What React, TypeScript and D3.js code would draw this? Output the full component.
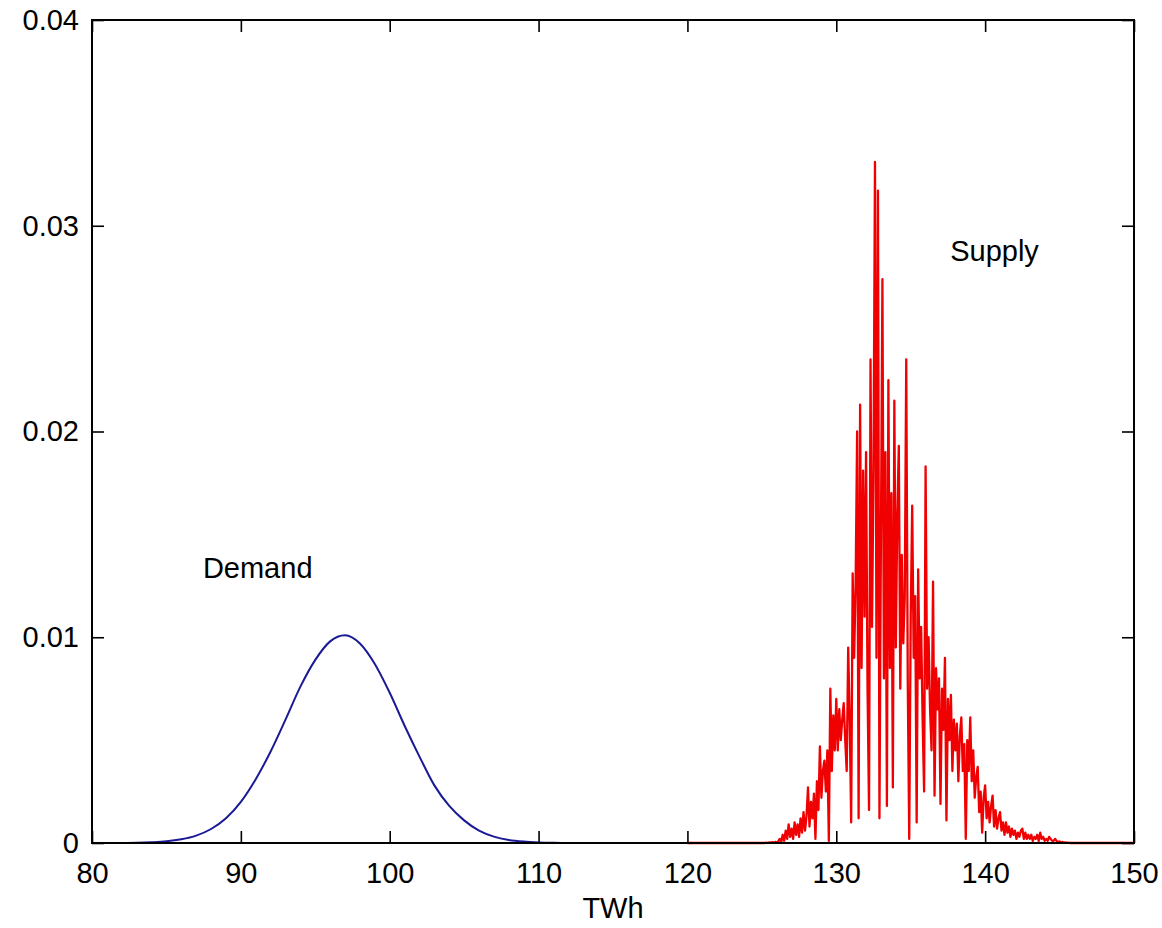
import { useEffect, useRef } from 'react'
import * as d3 from 'd3'

// demand curve (TWh -> probability)
const demandTWh = [80, 81, 82, 83, 84, 85, 86, 87, 88, 89, 90, 91, 92, 93, 94, 95, 96, 97, 98, 99, 100,
  101, 102, 103, 104, 105, 106, 107, 108, 109, 110, 111, 112, 150]
const demandProb = [0, 0, 0.000002, 0.00001, 0.000035, 0.00008, 0.00018, 0.00036, 0.00068, 0.0012, 0.002,
  0.0031, 0.00445, 0.006, 0.0076, 0.0089, 0.0098, 0.0101, 0.0097, 0.0087, 0.0073,
  0.0057, 0.0042, 0.0028, 0.0018, 0.0011, 0.0006, 0.00031, 0.00015, 0.00007, 0.00003, 0.00001, 0, 0]

// supply: flat tails plus the spiky core sampled every 0.1 TWh from 125.0 to 146.0
const supplyTailStart = { x: 120, y: 0 }
const supplyTailEnd = { x: 150, y: 0 }
const supplyCoreStart = 125
const supplyCoreStep = 0.1
const supplyCore = [
  // 125.0 - 126.0
  0, 0, 0, 0.00002, 0, 0.00003, 0.00001, 0.00004, 0.00002, 0.00005, 0.00003,
  // 126.1 - 126.9
  0.00008, 0.0002, 0.00005, 0.0004, 0.0001, 0.0006, 0.0002, 0.0009, 0.0003,
  // 127.0 - 127.9
  0.0007, 0.0002, 0.001, 0.0004, 0.0009, 0.0003, 0.0012, 0.0005, 0.0015, 0.0006,
  // 128
  0.0013, 0.0027, 0.0008, 0.002, 0.0012, 0.0024, 0.0002, 0.003, 0.0016, 0.0047,
  // 129
  0.0022, 0.0035, 0.004, 0.0025, 0.0045, 0.0001, 0.0075, 0.0035, 0.0062, 0.0045,
  // 130
  0.007, 0.0045, 0.0065, 0.005, 0.006, 0.0068, 0.005, 0.0035, 0.0095, 0.006,
  // 131
  0.001, 0.0131, 0.009, 0.0126, 0.02, 0.0012, 0.0213, 0.0085, 0.0181, 0.011,
  // 132
  0.019, 0.0075, 0.0016, 0.0235, 0.0105, 0.018, 0.0331, 0.009, 0.0317, 0.0012,
  // 133
  0.015, 0.0274, 0.008, 0.019, 0.0018, 0.0225, 0.0085, 0.017, 0.0027, 0.0215,
  // 134
  0.0095, 0.016, 0.0193, 0.0075, 0.014, 0.0097, 0.012, 0.0235, 0.008, 0.0002,
  // 135
  0.011, 0.0164, 0.009, 0.012, 0.001, 0.0133, 0.008, 0.0105, 0.006, 0.0025,
  // 136
  0.0183, 0.0075, 0.01, 0.0065, 0.0045, 0.0127, 0.0023, 0.0085, 0.0065, 0.008,
  // 137
  0.0019, 0.0075, 0.0055, 0.009, 0.0011, 0.007, 0.005, 0.0072, 0.0035, 0.006,
  // 138
  0.0045, 0.0058, 0.003, 0.0052, 0.0061, 0.0035, 0.0048, 0.0002, 0.005, 0.0035,
  // 139
  0.0061, 0.003, 0.0045, 0.0022, 0.0032, 0.0037, 0.0015, 0.0025, 0.0005, 0.0022,
  // 140
  0.0028, 0.0012, 0.002, 0.001, 0.0018, 0.0023, 0.0008, 0.0016, 0.0007, 0.0012,
  // 141
  0.0015, 0.0006, 0.001, 0.0004, 0.001, 0.0005, 0.0008, 0.0003, 0.0007, 0.0004,
  // 142
  0.0006, 0.0002, 0.0005, 0.0003, 0.0006, 0.0007, 0.0002, 0.0005, 0.0002, 0.0004,
  // 143
  0.0002, 0.0004, 0.0001, 0.0003, 0.0002, 0.0004, 0.0001, 0.0005, 0.0002, 0.0003,
  // 144
  0.0001, 0.0002, 0.0001, 0.0003, 0.0002, 0.0001, 0.0001, 0.0002, 0.0001, 0.00005,
  // 145.0 - 146.0
  0.00008, 0.00003, 0.00005, 0.00002, 0.00003, 0.00001, 0.00002, 0, 0.00001, 0, 0,
]

const xTicks = [80, 90, 100, 110, 120, 130, 140, 150]
const yTicks = [0, 0.01, 0.02, 0.03, 0.04]
const yTickLabels = ['0', '0.01', '0.02', '0.03', '0.04']
const labels = [
  { text: 'Demand', x: 87.45, y: 0.0129 },
  { text: 'Supply', x: 137.65, y: 0.0283 },
]

const W = 1162
const H = 928
const margin = { top: 20, right: 28, bottom: 85, left: 92 }
const font = '"Liberation Sans", Arial, Helvetica, sans-serif'

const App = () => {
  const svgRef = useRef(null)

  useEffect(() => {
    const svg = d3.select(svgRef.current)
    svg.selectAll('*').remove()

    const x = d3.scaleLinear().domain([80, 150]).range([margin.left, W - margin.right])
    const y = d3.scaleLinear().domain([0, 0.04]).range([H - margin.bottom, margin.top])

    const demand = demandTWh.map((t, i) => ({ x: t, y: demandProb[i] }))
    const supply = [supplyTailStart,
      ...supplyCore.map((v, i) => ({ x: supplyCoreStart + i * supplyCoreStep, y: v })),
      supplyTailEnd]

    const line = d3.line().x(d => x(d.x)).y(d => y(d.y))

    svg.append('rect')
      .attr('x', margin.left).attr('y', margin.top)
      .attr('width', W - margin.left - margin.right)
      .attr('height', H - margin.top - margin.bottom)
      .attr('fill', '#fff')

    svg.append('path')
      .datum(demand)
      .attr('d', line.curve(d3.curveMonotoneX))
      .attr('fill', 'none')
      .attr('stroke', '#1a1a96')
      .attr('stroke-width', 2)

    svg.append('path')
      .datum(supply)
      .attr('d', line.curve(d3.curveLinear))
      .attr('fill', 'none')
      .attr('stroke', '#f00000')
      .attr('stroke-width', 2.3)
      .attr('stroke-linejoin', 'round')

    const styleAxis = g => {
      g.select('.domain').remove()
      g.selectAll('line').attr('stroke', '#000').attr('stroke-width', 1.6)
      g.selectAll('text').attr('font-family', font).attr('font-size', 29).attr('fill', '#000')
    }

    svg.append('g')
      .attr('transform', `translate(0,${H - margin.bottom})`)
      .call(d3.axisBottom(x).tickValues(xTicks).tickSize(-12).tickPadding(19).tickFormat(d3.format('d')))
      .call(styleAxis)

    svg.append('g')
      .attr('transform', `translate(0,${margin.top})`)
      .call(d3.axisTop(x).tickValues(xTicks).tickSize(-12).tickFormat(() => ''))
      .call(styleAxis)

    svg.append('g')
      .attr('transform', `translate(${margin.left},0)`)
      .call(d3.axisLeft(y).tickValues(yTicks).tickSize(-12).tickPadding(13).tickFormat((d, i) => yTickLabels[i]))
      .call(styleAxis)

    svg.append('g')
      .attr('transform', `translate(${W - margin.right},0)`)
      .call(d3.axisRight(y).tickValues(yTicks).tickSize(-12).tickFormat(() => ''))
      .call(styleAxis)

    svg.append('rect')
      .attr('x', margin.left).attr('y', margin.top)
      .attr('width', W - margin.left - margin.right)
      .attr('height', H - margin.top - margin.bottom)
      .attr('fill', 'none')
      .attr('stroke', '#000')
      .attr('stroke-width', 2)

    svg.selectAll('.note')
      .data(labels)
      .join('text')
      .attr('class', 'note')
      .attr('x', d => x(d.x))
      .attr('y', d => y(d.y))
      .attr('font-family', font)
      .attr('font-size', 29)
      .text(d => d.text)

    svg.append('text')
      .attr('x', (margin.left + W - margin.right) / 2)
      .attr('y', 918)
      .attr('text-anchor', 'middle')
      .attr('font-family', font)
      .attr('font-size', 29)
      .text('TWh')
  }, [])

  return (
    <div style={{ position: 'absolute', left: 0, top: 0 }}>
      <svg ref={svgRef} width={W} height={H} style={{ display: 'block', background: '#fff' }} />
    </div>
  )
}

export default App
